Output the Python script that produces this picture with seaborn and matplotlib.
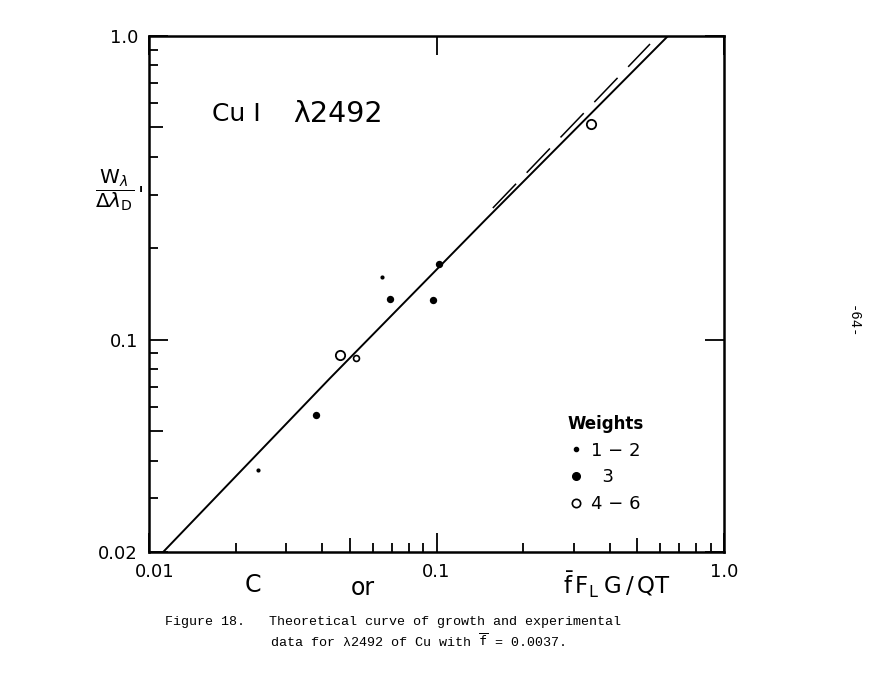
import matplotlib
matplotlib.use("Agg")
import matplotlib.pyplot as plt
import seaborn as sns
from matplotlib.lines import Line2D
from matplotlib.ticker import FixedLocator, NullFormatter
from matplotlib.transforms import ScaledTranslation

# --------------------------------------------------
# data (log-log, C or fF_L G/QT vs W/dλ_D)
# --------------------------------------------------
dot_x = [0.0240, 0.0645]                      # weights 1-2
dot_y = [0.0372, 0.161]
filled_x = [0.0380, 0.0691, 0.0970, 0.1023]   # weight 3
filled_y = [0.0565, 0.136, 0.135, 0.177]
open_x = [0.0462, 0.345]                      # weights 4-6
open_y = [0.089, 0.511]
open_small_x = [0.0526]
open_small_y = [0.0867]

theory_x = [0.0112, 0.0426, 0.1487, 0.640]    # theoretical curve
theory_y = [0.02, 0.0746, 0.249, 1.0]
dashed_x = [0.157, 0.553]                     # dashed branch
dashed_y = [0.271, 0.939]

legend_labels = ["1 − 2", "  3", "4 − 6"]
x_ticks = [0.01, 0.1, 1.0]
x_ticklabels = ["0.01", "0.1", "1.0"]
y_ticks = [0.02, 0.1, 1.0]
y_ticklabels = ["0.02", "0.1", "1.0"]
x_minor = [0.02, 0.03, 0.04, 0.05, 0.06, 0.07, 0.08, 0.09,
           0.2, 0.3, 0.4, 0.5, 0.6, 0.7, 0.8, 0.9]
y_minor = [0.03, 0.04, 0.05, 0.06, 0.07, 0.08, 0.09,
           0.2, 0.3, 0.4, 0.5, 0.6, 0.7, 0.8, 0.9]
half_decade = [0.05, 0.5]

sns.set_theme(style="white")
plt.rcParams['font.family'] = ['DejaVu Sans']
plt.rcParams['mathtext.fontset'] = 'dejavusans'
plt.rcParams['text.color'] = 'black'

fig = plt.figure(figsize=(8.86, 6.76), dpi=100)
ax = fig.add_axes([149 / 886, 1 - 552 / 676, 575 / 886, 516.3 / 676])
ax.set(xscale="log", yscale="log")

# --------------------------------------------------
# lines and points
# --------------------------------------------------
sns.lineplot(x=theory_x, y=theory_y, ax=ax, color="black", lw=1.4)
sns.lineplot(x=dashed_x, y=dashed_y, ax=ax, color="black", lw=1.1,
             linestyle=(0, (22, 10)))

sns.scatterplot(x=dot_x, y=dot_y, ax=ax, color="black", s=9, linewidth=0)
sns.scatterplot(x=filled_x, y=filled_y, ax=ax, color="black", s=28, linewidth=0)
sns.scatterplot(x=open_x, y=open_y, ax=ax, facecolor="white",
                edgecolor="black", s=45, linewidth=1.3)
sns.scatterplot(x=open_small_x, y=open_small_y, ax=ax, facecolor="white",
                edgecolor="black", s=18, linewidth=1.2)

ax.set_xlim(0.01, 1.0)
ax.set_ylim(0.02, 1.0)

# --------------------------------------------------
# ticks / spines
# --------------------------------------------------
ax.xaxis.set_major_locator(FixedLocator(x_ticks))
ax.xaxis.set_minor_locator(FixedLocator(x_minor))
ax.yaxis.set_major_locator(FixedLocator(y_ticks))
ax.yaxis.set_minor_locator(FixedLocator(y_minor))
ax.set_xticklabels(x_ticklabels)
ax.set_yticklabels(y_ticklabels)
ax.xaxis.set_minor_formatter(NullFormatter())
ax.yaxis.set_minor_formatter(NullFormatter())

ax.tick_params(which="major", direction="in", length=13.5, width=1.3,
               top=True, right=True, bottom=True, left=True,
               labelsize=13, pad=8, color="black", labelcolor="black")
ax.tick_params(which="minor", direction="in", length=6.5, width=1.3,
               top=False, right=False, bottom=True, left=True, color="black")

for t, v in zip(ax.xaxis.get_minor_ticks(), x_minor):
    if v in half_decade:
        t.tick1line.set_markersize(10)
for t, v in zip(ax.yaxis.get_minor_ticks(), y_minor):
    if v in half_decade:
        t.tick1line.set_markersize(10)

# the hand-lettered "0.01" sits a bit right of the corner
first = ax.xaxis.get_major_ticks()[0].label1
first.set_transform(first.get_transform() + ScaledTranslation(6 / 100, 0, fig.dpi_scale_trans))

for sp in ax.spines.values():
    sp.set_linewidth(1.8)
    sp.set_color("black")
ax.grid(False)

# --------------------------------------------------
# legend
# --------------------------------------------------
handles = [
    Line2D([], [], ls="none", marker="o", ms=3, color="black"),
    Line2D([], [], ls="none", marker="o", ms=5.5, color="black"),
    Line2D([], [], ls="none", marker="o", ms=6, mfc="white", mec="black", mew=1.2),
]
leg = ax.legend(handles, legend_labels, title="Weights", frameon=False,
                loc="upper left", bbox_to_anchor=(0.712, 0.283),
                fontsize=13, title_fontsize=12, handlelength=0.6,
                handletextpad=0.55, labelspacing=0.48, borderpad=0)
leg.get_title().set_fontweight("bold")

# --------------------------------------------------
# labels
# --------------------------------------------------
ax.text(0.109, 0.848, "Cu I", transform=ax.transAxes,
        fontsize=18, va="center", ha="left")
ax.text(0.250, 0.848, "λ2492", transform=ax.transAxes,
        fontsize=20.5, va="center", ha="left")

fig.text(115 / 886, 1 - 190 / 676,
         r"$\dfrac{\mathrm{W}_{\lambda}}{\Delta\lambda_{\mathrm{D}}}$",
         fontsize=14.5, ha="center", va="center")
fig.text(141 / 886, 1 - 196 / 676, "'", fontsize=16, ha="center", va="center")

fig.text(253 / 886, 1 - 585 / 676, "C", fontsize=17, ha="center", va="center")
fig.text(363 / 886, 1 - 588 / 676, "or", fontsize=17, ha="center", va="center")
fig.text(617 / 886, 1 - 585 / 676,
         r"$\bar{\mathrm{f}}\,\mathrm{F_L}\;\mathrm{G\,/\,QT}$",
         fontsize=16.5, ha="center", va="center")

fig.text(165 / 886, 1 - 622 / 676,
         "Figure 18.   Theoretical curve of growth and experimental",
         fontsize=9.6, family="Liberation Mono", ha="left", va="center")
fig.text(270 / 886, 1 - 641 / 676,
         r"data for λ2492 of Cu with $\overline{\mathtt{f}}$ = 0.0037.",
         fontsize=9.6, family="Liberation Mono", ha="left", va="center")

fig.text(853 / 886, 1 - 322 / 676, "-64-", fontsize=10, family="Liberation Mono",
         rotation=-90, ha="center", va="center")

fig.savefig("out.png", dpi=100, facecolor="white")
